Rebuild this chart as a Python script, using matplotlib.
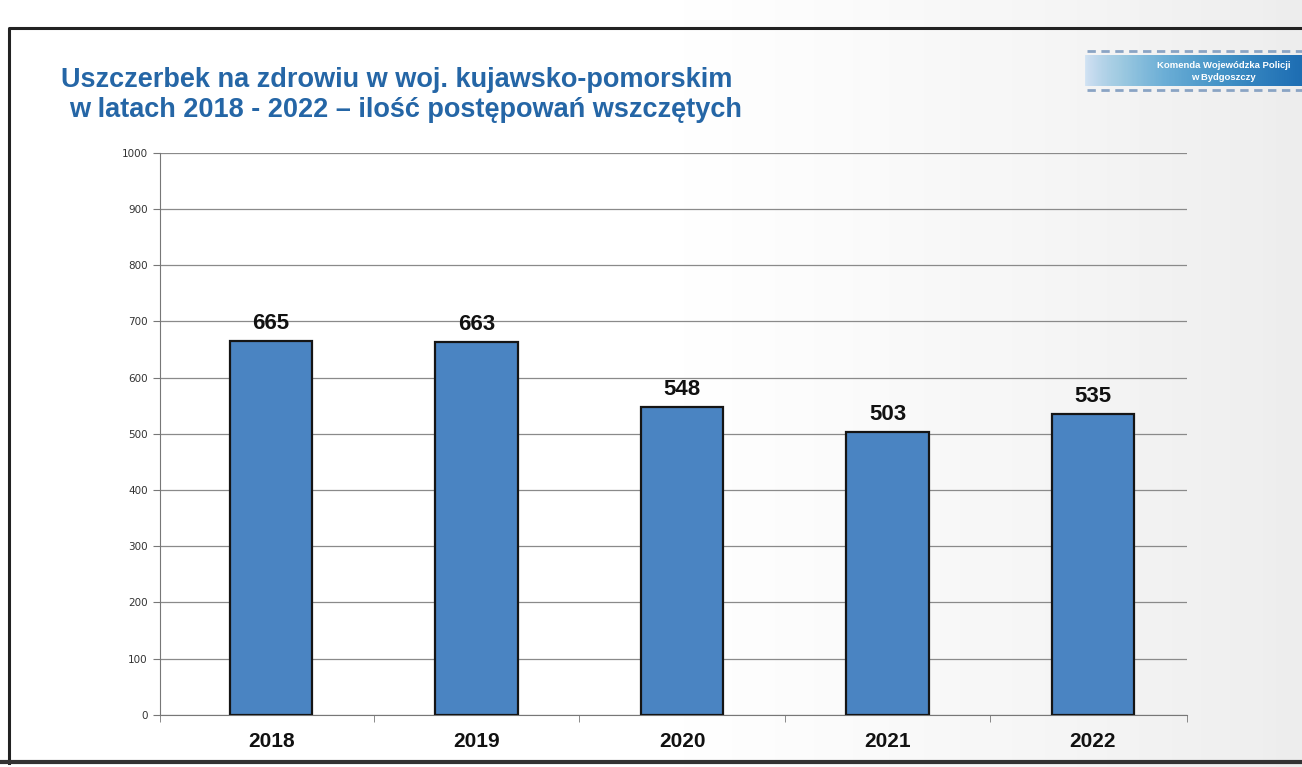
import numpy as np
import matplotlib
matplotlib.use('Agg')
import matplotlib.pyplot as plt

plt.rcParams['font.family'] = ['Liberation Sans', 'DejaVu Sans']

years = ['2018', '2019', '2020', '2021', '2022']
cases = [665, 663, 548, 503, 535]
y_ticks = [0, 100, 200, 300, 400, 500, 600, 700, 800, 900, 1000]

title_color = '#2566a6'
bar_color = '#4a84c2'

fig = plt.figure(figsize=(13.02, 7.67), dpi=100)

# slide background: white fading into light grey on the right
bg = fig.add_axes([0, 0, 1, 1], zorder=-10)
grad = np.linspace(0, 1, 400)
grad = np.clip((grad - 0.5) / 0.5, 0, 1) ** 1.2
bg.imshow(np.tile(grad, (10, 1)), cmap='Greys', vmin=0, vmax=7,
          aspect='auto', extent=[0, 1, 0, 1])
bg.set_xlim(0, 1)
bg.set_ylim(0, 1)
bg.axis('off')

# slide frame
bg.plot([0.007, 0.007, 1.0], [0.005, 0.963, 0.963], color='#222222', lw=2.2)
bg.plot([0.0, 1.0], [0.007, 0.007], color='#333333', lw=3)

# title
fig.text(0.047, 0.887, 'Uszczerbek na zdrowiu w woj. kujawsko-pomorskim',
         color=title_color, fontsize=19.5, fontweight='bold', va='baseline')
fig.text(0.053, 0.848, 'w latach 2018 - 2022 \u2013 ilo\u015b\u0107 post\u0119powa\u0144 wszcz\u0119tych',
         color=title_color, fontsize=19.5, fontweight='bold', va='baseline')

# logo banner in the corner
logo = fig.add_axes([0.833, 0.888, 0.167, 0.04])
band = np.linspace(0, 1, 200) ** 0.6
logo.imshow(np.tile(band, (5, 1)), cmap='Blues', vmin=-0.3, vmax=1.4,
            aspect='auto', extent=[0, 1, 0, 1])
logo.set_xlim(0, 1)
logo.set_ylim(0, 1)
logo.axis('off')
logo.text(0.64, 0.68, 'Komenda Wojew\u00f3dzka Policji', color='white', fontsize=6.8,
          fontweight='bold', ha='center', va='center')
logo.text(0.64, 0.28, 'w Bydgoszczy', color='white', fontsize=6.8,
          fontweight='bold', ha='center', va='center')
bg.plot([0.835, 1.0], [0.934, 0.934], color='#8aa4c4', lw=2, ls=(0, (3, 2)))
bg.plot([0.835, 1.0], [0.883, 0.883], color='#8aa4c4', lw=2, ls=(0, (3, 2)))

# chart
ax = fig.add_axes([0.123, 0.068, 0.789, 0.733])
ax.set_facecolor('none')
x = np.arange(len(years))
bars = ax.bar(x, cases, width=0.4, color=bar_color, edgecolor='#151515',
              linewidth=1.6, zorder=3)
for b, v in zip(bars, cases):
    ax.text(b.get_x() + b.get_width() / 2, v + 12, str(v), ha='center',
            va='bottom', fontsize=16, fontweight='bold', color='#111111')

x_lo, x_hi = -0.54, len(years) - 0.54
ax.set_xlim(x_lo, x_hi)
ax.set_ylim(0, 1000)
ax.set_yticks(y_ticks)
ax.set_yticklabels([str(t) for t in y_ticks], fontsize=7.5, color='#333333',
                   family='DejaVu Sans')
ax.yaxis.grid(True, color='#8a8a8a', lw=0.9)
ax.set_axisbelow(True)

ax.set_xticks(x)
ax.set_xticklabels(years, fontsize=15, fontweight='bold', color='#111111')
ax.set_xticks([x_lo] + list(x[:-1] + 0.5) + [x_hi], minor=True)
ax.tick_params(axis='x', which='major', length=0, pad=12)
ax.tick_params(axis='x', which='minor', length=5, color='#777777')
ax.tick_params(axis='y', length=5, color='#777777', pad=4)

for s in ['top', 'right']:
    ax.spines[s].set_visible(False)
ax.spines['left'].set_color('#777777')
ax.spines['bottom'].set_color('#777777')

fig.savefig('out.png', dpi=100)
